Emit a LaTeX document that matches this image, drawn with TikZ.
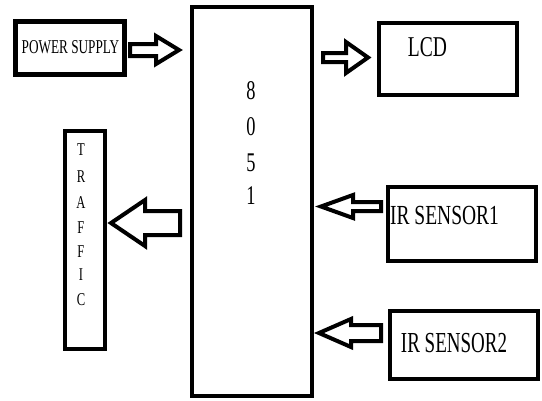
\documentclass[tikz,border=0pt]{standalone}
\usepackage{graphicx}
\usepackage{fontspec}
\setmainfont{Liberation Serif}
\newcommand\sqz[3]{{\fontsize{#1}{#1}\selectfont\scalebox{#2}[1]{#3}}}
% block arrow: tail x, tip x, centre y, shaft half, head half, head base x
\newcommand\blockarr[6]{%
  \draw[blk] (#1,#3-#4) -- (#6,#3-#4) -- (#6,#3-#5) -- (#2,#3) -- (#6,#3+#5) -- (#6,#3+#4) -- (#1,#3+#4) -- cycle;}
\begin{document}
\begin{tikzpicture}[x=1pt,y=-1pt,
  box/.style={draw=black,line width=4pt,rectangle,inner sep=0pt,fill=white},
  blk/.style={draw=black,line width=4pt,fill=white,line join=miter},
  txt/.style={inner sep=0pt,anchor=base}]
\useasboundingbox[fill=white] (0,0) rectangle (542,400);
% boxes
\node[box,line width=5pt,minimum width=109pt,minimum height=53pt] (ps) at (70,48) {};
\node[box,minimum width=120pt,minimum height=389pt] (mcu) at (252,201.5) {};
\node[box,minimum width=138pt,minimum height=72pt] (lcd) at (448,59) {};
\node[box,minimum width=40pt,minimum height=218pt] (tr) at (85,240) {};
\node[box,minimum width=148pt,minimum height=74pt] (ir1) at (462,224) {};
\node[box,minimum width=148pt,minimum height=68pt] (ir2) at (464,345) {};
% texts
\node[txt] (pst) at (70.5,53) {\sqz{19.6pt}{0.675}{POWER SUPPLY}};
\node[txt] (lcdt) at (427.5,56) {\sqz{28.7pt}{0.68}{LCD}};
\node[txt] (ir1t) at (444.5,224) {\sqz{27.6pt}{0.707}{IR SENSOR1}};
\node[txt] (ir2t) at (454,352) {\sqz{29pt}{0.655}{IR SENSOR2}};
\node[txt] (d1) at (251,99) {\sqz{27pt}{0.68}{8}};
\node[txt] (d2) at (251,135.5) {\sqz{27pt}{0.68}{0}};
\node[txt] (d3) at (251,171.5) {\sqz{27pt}{0.68}{5}};
\node[txt] (d4) at (251,204) {\sqz{27pt}{0.68}{1}};
\node[txt] (t1) at (81,155) {\sqz{18pt}{0.7}{T}};
\node[txt] (t2) at (81,182) {\sqz{18pt}{0.7}{R}};
\node[txt] (t3) at (81,208) {\sqz{18pt}{0.7}{A}};
\node[txt] (t4) at (81,233) {\sqz{18pt}{0.7}{F}};
\node[txt] (t5) at (81,257) {\sqz{18pt}{0.7}{F}};
\node[txt] (t6) at (81,280) {\sqz{18pt}{0.7}{I}};
\node[txt] (t7) at (81,305) {\sqz{18pt}{0.7}{C}};
% block arrows
\blockarr{130}{179}{50}{6}{14}{156}
\blockarr{323}{368}{57.5}{4.5}{15.5}{346}
\blockarr{180}{111}{223}{12}{23}{145}
\blockarr{381}{321}{206.5}{4.5}{11.5}{353}
\blockarr{381}{319}{333}{8}{14}{351}
\end{tikzpicture}
\end{document}
